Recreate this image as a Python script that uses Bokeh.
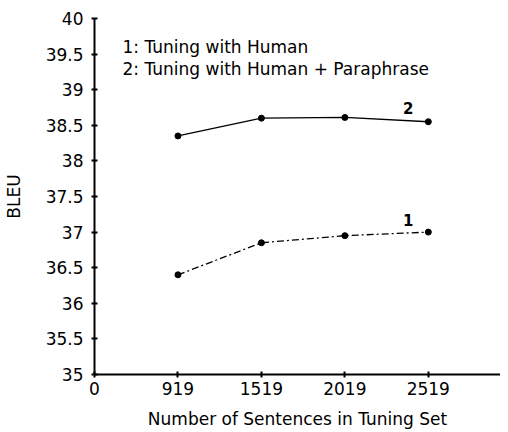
from bokeh.plotting import figure
from bokeh.models import FixedTicker, Range1d, Label
from bokeh.embed import file_html
from bokeh.resources import INLINE

# ---- data ----
x_tick_labels = ["0", "919", "1519", "2019", "2519"]
sentences = [919, 1519, 2019, 2519]
human = [36.40, 36.85, 36.95, 37.00]
human_para = [38.35, 38.60, 38.61, 38.55]
y_ticks = [35, 35.5, 36, 36.5, 37, 37.5, 38, 38.5, 39, 39.5, 40]
y_tick_labels = ["35", "35.5", "36", "36.5", "37", "37.5", "38", "38.5", "39", "39.5", "40"]
legend_lines = ["1: Tuning with Human", "2: Tuning with Human + Paraphrase"]
legend_y = [39.60, 39.29]

# positions of each tuning-set size on the (evenly spaced) x axis
pos = [x_tick_labels.index(str(s)) for s in sentences]

FONT = "DejaVu Sans"

p = figure(width=500, height=432, output_backend="svg", toolbar_location=None,
           x_range=Range1d(0, 4.865), y_range=Range1d(35, 40),
           min_border_left=87, min_border_right=0, min_border_top=18, min_border_bottom=58)
p.outline_line_color = None
p.xgrid.visible = False
p.ygrid.visible = False
p.background_fill_color = "white"
p.border_fill_color = "white"

for ax in (p.xaxis[0], p.yaxis[0]):
    ax.axis_line_width = 2
    ax.axis_line_color = "black"
    ax.major_tick_line_width = 2
    ax.major_tick_line_color = "black"
    ax.major_tick_in = 3
    ax.major_tick_out = 3
    ax.minor_tick_line_color = None
    ax.major_label_text_font = FONT
    ax.major_label_text_font_size = "17px"
    ax.major_label_text_color = "black"
    ax.axis_label_text_font = FONT
    ax.axis_label_text_font_size = "17px"
    ax.axis_label_text_font_style = "normal"
    ax.axis_label_text_color = "black"

p.xaxis[0].ticker = FixedTicker(ticks=list(range(len(x_tick_labels))))
p.xaxis[0].major_label_overrides = {i: l for i, l in enumerate(x_tick_labels)}
p.xaxis[0].axis_label = "Number of Sentences in Tuning Set"
p.xaxis[0].major_label_standoff = 4
p.xaxis[0].axis_label_standoff = 11

p.yaxis[0].ticker = FixedTicker(ticks=y_ticks)
p.yaxis[0].major_label_overrides = {t: l for t, l in zip(y_ticks, y_tick_labels)}
p.yaxis[0].axis_label = "BLEU"
p.yaxis[0].major_label_standoff = 8
p.yaxis[0].axis_label_standoff = 19

# series 1: dash-dot
p.line(pos, human, line_color="black", line_width=1.3, line_dash="7 3 2 3")
p.scatter(pos, human, size=6, color="black")
# series 2: solid
p.line(pos, human_para, line_color="black", line_width=1.3)
p.scatter(pos, human_para, size=6, color="black")

# series tags
for txt, lx, ly in (("2", 3.76, 38.74), ("1", 3.76, 37.17)):
    p.add_layout(Label(x=lx, y=ly, text=txt, text_font=FONT, text_font_size="15px",
                       text_font_style="bold", text_align="center", text_baseline="middle",
                       text_color="black"))

# legend text
for t, ly in zip(legend_lines, legend_y):
    p.add_layout(Label(x=0.336, y=ly, text=t, text_font=FONT, text_font_size="17px",
                       text_baseline="middle", text_color="black"))

open("out.html", "w").write(file_html(p, INLINE))
